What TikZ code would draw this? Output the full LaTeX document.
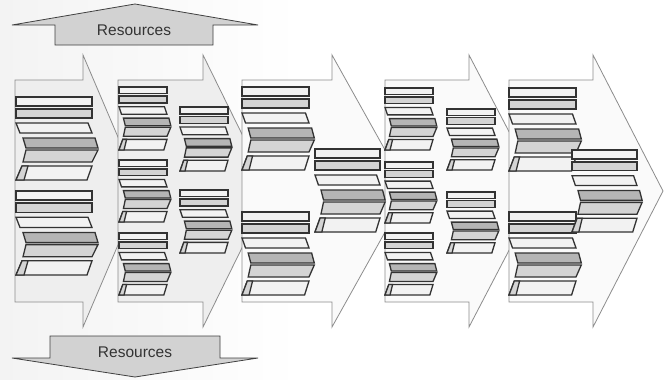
\documentclass[tikz,border=0pt]{standalone}
\usepackage{fontspec}
\setmainfont{Liberation Sans}
\definecolor{ibord}{HTML}{333333}
\definecolor{ilight}{HTML}{F2F2F2}
\definecolor{imid}{HTML}{D4D4D4}
\definecolor{idark}{HTML}{B5B5B5}
\definecolor{aline}{HTML}{8C8C8C}
\definecolor{afillA}{HTML}{EEEEEE}
\definecolor{afillB}{HTML}{FAFAFA}
\definecolor{resfill}{HTML}{D2D2D2}
\definecolor{bgleft}{HTML}{F3F3F3}
\tikzset{
 ipart/.style={draw=ibord, line width=1.3pt, line join=miter},
 chainarrow/.style={draw=aline, line width=0.8pt},
 resarrow/.style={draw=black!75, fill=resfill, line width=0.8pt},
 reslabel/.style={font=\fontsize{15.5}{15.5}\selectfont, text=black!80, inner sep=0pt},
}
\newcommand{\procicon}[4]{%
 \begin{scope}[shift={(#1,#2)}, xscale=#3/76, yscale=#4/83]
  \filldraw[ipart, fill=ilight] (0,0) rectangle (76,9);
  \filldraw[ipart, fill=imid] (0,12) rectangle (76,21);
  \filldraw[ipart, fill=ilight] (0,26) -- (72,26) -- (76,36) -- (4,36) -- cycle;
  \filldraw[ipart, fill=idark] (7,41) -- (79,41) -- (82,51) -- (10,51) -- cycle;
  \filldraw[ipart, fill=imid] (10,53) -- (82,53) -- (76,65) -- (7,65) -- cycle;
  \filldraw[ipart, fill=ilight] (6,69) -- (76,69) -- (71,83) -- (0,83) -- cycle;
  \filldraw[ipart, fill=imid] (6,69) -- (12,69) -- (8,83) -- (0,83) -- cycle;
 \end{scope}}
\newcommand{\valarrow}[4]{%
 \filldraw[chainarrow, fill=#4] (#1,80) -- (#2,80) -- (#2,55) -- (#3,191) -- (#2,327) -- (#2,302) -- (#1,302) -- cycle;}
\begin{document}
\begin{tikzpicture}[x=1pt, y=-1pt]
\useasboundingbox (0,0) rectangle (670,380);
\fill[white] (0,0) rectangle (670,380);
\shade[left color=bgleft, right color=white] (0,0) rectangle (300,380);
% value chain arrows
\valarrow{15}{83}{141}{afillA}
\valarrow{118}{203}{270}{afillA}
\valarrow{242}{332}{408}{afillB}
\valarrow{385}{469}{540}{afillB}
\valarrow{509}{593}{663}{afillB}
% icons, arrow 1
\procicon{16}{97}{76}{83}
\procicon{16}{191}{76}{84}
% arrow 2
\procicon{119}{87}{48}{63}
\procicon{119}{160}{48}{62}
\procicon{119}{233}{48}{62}
\procicon{180}{107}{48}{64}
\procicon{180}{190}{48}{63}
% arrow 3
\procicon{242}{87}{67}{83}
\procicon{242}{212}{67}{83}
\procicon{315}{149}{65}{83}
% arrow 4
\procicon{385}{88}{48}{62}
\procicon{385}{162}{48}{61}
\procicon{385}{233}{48}{62}
\procicon{447}{109}{48}{61}
\procicon{447}{192}{48}{61}
% arrow 5
\procicon{509}{88}{67}{83}
\procicon{509}{212}{67}{83}
\procicon{572}{150}{65}{82}
% resources arrows
\filldraw[resarrow] (55,45) -- (55,25) -- (12,25) -- (135,4) -- (258,25) -- (213,25) -- (213,45) -- cycle;
\node[reslabel] (restop) at (134,30) {Resources};
\filldraw[resarrow] (50,336) -- (220,336) -- (220,358) -- (258,358) -- (135,377) -- (12,358) -- (50,358) -- cycle;
\node[reslabel] (resbot) at (135,352) {Resources};
\end{tikzpicture}
\end{document}
